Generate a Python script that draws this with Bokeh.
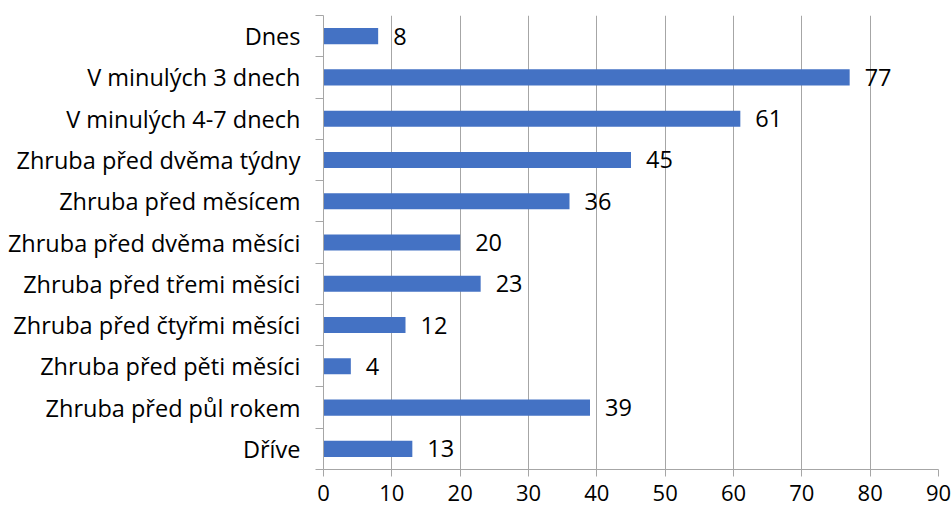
from bokeh.plotting import figure
from bokeh.models import Range1d, FixedTicker, ColumnDataSource, LabelSet
from bokeh.core.properties import value
from bokeh.embed import file_html
from bokeh.resources import INLINE

categories = [
    "Dnes",
    "V minulých 3 dnech",
    "V minulých 4-7 dnech",
    "Zhruba před dvěma týdny",
    "Zhruba před měsícem",
    "Zhruba před dvěma měsíci",
    "Zhruba před třemi měsíci",
    "Zhruba před čtyřmi měsíci",
    "Zhruba před pěti měsíci",
    "Zhruba před půl rokem",
    "Dříve",
]
counts = [8, 77, 61, 45, 36, 20, 23, 12, 4, 39, 13]
x_ticks = list(range(0, 100, 10))

FONT = "Open Sans"
FONT_SIZE = "23.5px"
TICK_FONT_SIZE = "22px"
GRAY = "#A6A6A6"
BAR = "#4472C4"

n = len(categories)
centers = [i + 0.5 for i in range(n)]
bounds = [float(i) for i in range(n + 1)]

src = ColumnDataSource(dict(
    y=centers,
    right=counts,
    label=[str(v) for v in counts],
))

p = figure(
    width=952, height=513,
    x_range=Range1d(0, 90), y_range=Range1d(n, 0),
    output_backend="svg", toolbar_location=None,
    min_border_left=323, min_border_right=14,
    min_border_top=15, min_border_bottom=44,
)
p.outline_line_color = None
p.background_fill_color = "white"
p.border_fill_color = "white"

p.hbar(y="y", left=0, right="right", height=0.39, source=src,
       fill_color=BAR, line_color=None)

labels = LabelSet(x="right", y="y", text="label", source=src,
                  x_offset=15, text_align="left", text_baseline="middle",
                  text_font=value(FONT), text_font_size=FONT_SIZE,
                  text_color="black")
p.add_layout(labels)

# x axis
p.xaxis.ticker = FixedTicker(ticks=x_ticks)
p.xaxis.axis_line_color = GRAY
p.xaxis.major_tick_line_color = GRAY
p.xaxis.major_tick_out = 7
p.xaxis.major_tick_in = 0
p.xaxis.minor_tick_line_color = None
p.xaxis.major_label_text_font = FONT
p.xaxis.major_label_text_font_size = TICK_FONT_SIZE
p.xaxis.major_label_text_color = "black"
p.xaxis.major_label_standoff = 8

# y axis: labels at category centres, ticks at category boundaries
p.yaxis.ticker = FixedTicker(ticks=centers, minor_ticks=bounds)
p.yaxis.major_label_overrides = {c: cat for c, cat in zip(centers, categories)}
p.yaxis.axis_line_color = GRAY
p.yaxis.major_tick_line_color = None
p.yaxis.major_tick_out = 0
p.yaxis.major_tick_in = 0
p.yaxis.minor_tick_line_color = GRAY
p.yaxis.minor_tick_out = 8
p.yaxis.minor_tick_in = 0
p.yaxis.major_label_text_font = FONT
p.yaxis.major_label_text_font_size = FONT_SIZE
p.yaxis.major_label_text_color = "black"
p.yaxis.major_label_standoff = 15

p.xgrid.grid_line_color = GRAY
p.xgrid.ticker = FixedTicker(ticks=x_ticks)
p.ygrid.grid_line_color = None

open("out.html", "w").write(file_html(p, INLINE))
